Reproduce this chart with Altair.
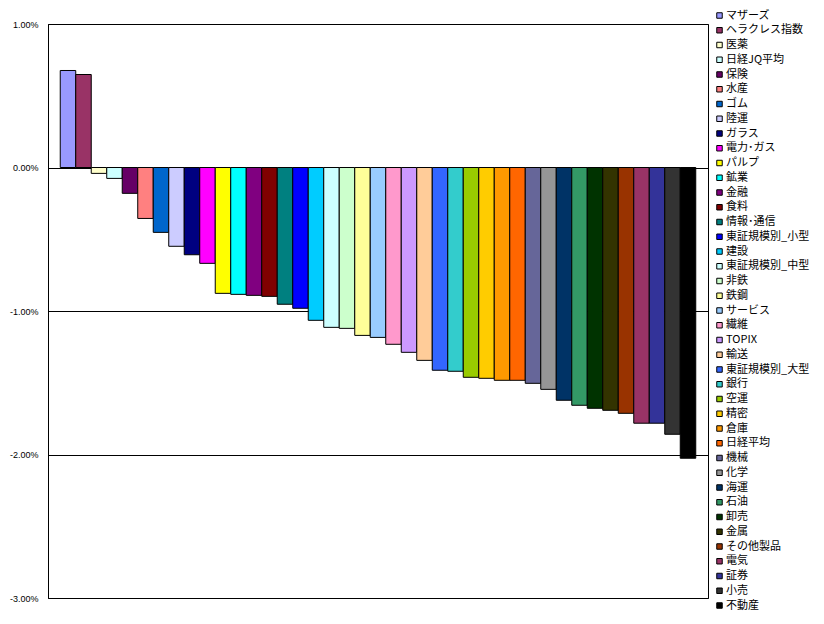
import altair as alt
import pandas as pd

names = ["マザーズ", "ヘラクレス指数", "医薬", "日経JQ平均", "保険", "水産", "ゴム", "陸運", "ガラス",
         "電力･ガス", "パルプ", "鉱業", "金融", "食料", "情報･通信", "東証規模別_小型", "建設",
         "東証規模別_中型", "非鉄", "鉄鋼", "サービス", "繊維", "TOPIX", "輸送", "東証規模別_大型",
         "銀行", "空運", "精密", "倉庫", "日経平均", "機械", "化学", "海運", "石油", "卸売", "金属",
         "その他製品", "電気", "証券", "小売", "不動産"]

values = [0.676, 0.648, -0.041, -0.076, -0.18, -0.355, -0.452, -0.549, -0.608,
          -0.668, -0.877, -0.884, -0.891, -0.898, -0.953, -0.981, -1.065,
          -1.114, -1.121, -1.17, -1.184, -1.232, -1.288, -1.344, -1.413,
          -1.42, -1.462, -1.469, -1.483, -1.483, -1.504, -1.546, -1.622, -1.657, -1.678, -1.692,
          -1.713, -1.782, -1.782, -1.859, -2.026]

colors = ["#9999FF", "#993366", "#FFFFCC", "#CCFFFF", "#660066", "#FF8080", "#0066CC", "#CCCCFF", "#000080",
          "#FF00FF", "#FFFF00", "#00FFFF", "#800080", "#800000", "#008080", "#0000FF", "#00CCFF",
          "#CCFFFF", "#CCFFCC", "#FFFF99", "#99CCFF", "#FF99CC", "#CC99FF", "#FFCC99", "#3366FF",
          "#33CCCC", "#99CC00", "#FFCC00", "#FF9900", "#FF6600", "#666699", "#969696", "#003366", "#339966",
          "#003300", "#333300", "#993300", "#993366", "#333399", "#333333", "#000000"]

tick_values = [1, 0, -1, -2, -3]

df = pd.DataFrame({"name": names, "value": values})

chart = alt.Chart(df).mark_bar(stroke="black", strokeWidth=1, opacity=1).encode(
    x=alt.X("name:N", sort=names, axis=None,
            scale=alt.Scale(paddingInner=0, paddingOuter=0.79)),
    y=alt.Y("value:Q",
            scale=alt.Scale(domain=[-3, 1], nice=False, zero=False),
            axis=alt.Axis(values=tick_values, title=None, ticks=False, grid=True,
                          gridColor="black", gridOpacity=1, gridWidth=1,
                          domainColor="black", domainWidth=1,
                          labelFont="Liberation Sans", labelFontSize=9, labelColor="black",
                          labelPadding=10,
                          labelExpr="(datum.value < 0 ? '-' : '') + format(abs(datum.value), '.2f') + '%'")),
    color=alt.Color("name:N", sort=names,
                     scale=alt.Scale(domain=names, range=colors),
                     legend=alt.Legend(title=None, orient="none", legendX=666, legendY=-14,
                                       padding=0, symbolType="square", symbolSize=30,
                                       symbolStrokeColor="black", symbolStrokeWidth=1,
                                       symbolOpacity=1, symbolLimit=0,
                                       labelFont="Noto Sans CJK JP", labelFontSize=11,
                                       labelColor="black", labelLimit=200, labelOffset=1,
                                       rowPadding=2.75, columns=1)),
).properties(
    width=660, height=574,
    autosize=alt.AutoSizeParams(type="none"),
    padding={"left": 40, "top": 16, "right": 108, "bottom": 18},
).configure_view(stroke="black", strokeWidth=1)

chart.save("out.html", embed_options={"renderer": "svg", "actions": False})
